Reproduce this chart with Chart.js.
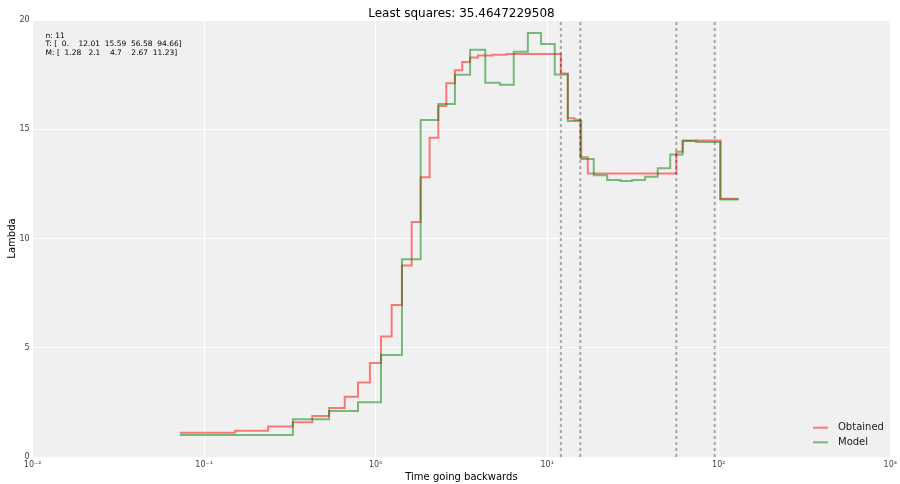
<!DOCTYPE html>
<html>
<head>
<meta charset="utf-8">
<script src="https://cdn.jsdelivr.net/npm/chart.js@4.4.0/dist/chart.umd.min.js"></script>
<style>
  html, body { margin: 0; padding: 0; background: #fff; }
  #wrap { width: 900px; height: 484px; }
</style>
</head>
<body>
<div id="wrap"><canvas id="chart" width="900" height="484"></canvas></div>
<script>
// step breakpoints (time) and lambda of each interval
const obtainedTimes = [0.0722, 0.151, 0.236, 0.329, 0.427, 0.535, 0.660, 0.789, 0.925, 1.074,
    1.239, 1.423, 1.621, 1.829, 2.063, 2.318, 2.581, 2.897, 3.198, 3.551,
    3.943, 4.802, 5.794, 12.01, 13.18, 14.42, 15.59, 17.24, 56.58, 61.6, 102.2, 130.6];
const obtainedLambda = [1.11, 1.20, 1.40, 1.59, 1.88, 2.24, 2.76, 3.41, 4.30, 5.51,
    6.96, 8.76, 10.75, 12.80, 14.61, 16.06, 17.10, 17.70, 18.08, 18.28,
    18.37, 18.41, 18.44, 17.55, 15.50, 15.43, 13.72, 12.98, 13.97, 14.48, 11.82];

const modelTimes = [0.0722, 0.329, 0.535, 0.789, 1.074, 1.423, 1.829, 2.318, 2.897, 3.551,
    4.355, 5.296, 6.381, 7.709, 9.204, 11.06, 13.18, 15.78, 18.68, 22.36,
    26.73, 31.27, 37.22, 44.08, 52.12, 61.6, 73.77, 102.2, 130.6];
const modelLambda = [1.01, 1.73, 2.10, 2.51, 4.67, 9.05, 15.42, 16.16, 17.50, 18.64,
    17.13, 17.04, 18.55, 19.40, 18.90, 17.51, 15.38, 13.64, 12.90, 12.68,
    12.63, 12.68, 12.83, 13.22, 13.84, 14.46, 14.42, 11.79];

const changeTimes = [12.01, 15.59, 56.58, 94.66];

const xTicks = [0.01, 0.1, 1, 10, 100, 1000];
const xTickLabels = ['10\u207B\u00B2', '10\u207B\u00B9', '10\u2070', '10\u00B9', '10\u00B2', '10\u00B3'];
const yMin = 0, yMax = 20, yStep = 5;

const infoLines = [
    'n: 11',
    'T: [  0.    12.01  15.59  56.58  94.66]',
    'M: [  1.28   2.1    4.7    2.67  11.23]'
];

const RED = 'rgba(255,0,0,0.5)';
const GREEN = 'rgba(0,128,0,0.5)';

function toSteps(times, vals) {
    return times.map((t, i) => ({ x: t, y: vals[Math.min(i, vals.length - 1)] }));
}

const vlineSets = changeTimes.map(t => ({
    label: 'T ' + t,
    data: [{ x: t, y: yMin }, { x: t, y: yMax }],
    borderColor: 'rgba(0,0,0,0.3)',
    borderWidth: 2,
    borderDash: [3, 3],
    pointRadius: 0
}));

const bgPlugin = {
    id: 'bg',
    beforeDraw(chart) {
        const { ctx, chartArea: a } = chart;
        ctx.save();
        ctx.fillStyle = '#fff';
        ctx.fillRect(0, 0, chart.width, chart.height);
        ctx.fillStyle = '#f0f0f0';
        ctx.fillRect(a.left, a.top, a.right - a.left, a.bottom - a.top);
        ctx.restore();
    }
};

const textPlugin = {
    id: 'texts',
    afterDraw(chart) {
        const ctx = chart.ctx;
        ctx.save();
        // info box top-left
        ctx.fillStyle = '#000';
        ctx.font = '7.5px "DejaVu Sans"';
        ctx.textBaseline = 'middle';
        ctx.textAlign = 'left';
        infoLines.forEach((s, i) => ctx.fillText(s, 45.5, 35.7 + i * 8.8));

        // legend bottom-right
        const items = [['Obtained', RED], ['Model', GREEN]];
        ctx.font = '10px "DejaVu Sans"';
        items.forEach((it, i) => {
            const y = 427.7 + i * 14.6;
            ctx.strokeStyle = it[1];
            ctx.lineWidth = 2;
            ctx.beginPath();
            ctx.moveTo(813, y);
            ctx.lineTo(828, y);
            ctx.stroke();
            ctx.fillStyle = '#222';
            ctx.fillText(it[0], 838, y);
        });
        ctx.restore();
    }
};

Chart.defaults.font.family = '"DejaVu Sans"';

new Chart(document.getElementById('chart'), {
    type: 'line',
    data: {
        datasets: [
            ...vlineSets,
            { label: 'Model', data: toSteps(modelTimes, modelLambda), borderColor: GREEN,
              borderWidth: 2, stepped: 'before', pointRadius: 0 },
            { label: 'Obtained', data: toSteps(obtainedTimes, obtainedLambda), borderColor: RED,
              borderWidth: 2, stepped: 'before', pointRadius: 0 }
        ]
    },
    options: {
        responsive: false,
        animation: false,
        devicePixelRatio: 1,
        layout: { padding: { left: 0, right: 9, top: 0, bottom: 0 } },
        plugins: {
            legend: { display: false },
            tooltip: { enabled: false },
            title: {
                display: true,
                text: 'Least squares: 35.4647229508',
                fullSize: false,
                color: '#000',
                font: { size: 12, weight: 'normal' },
                padding: { top: 7, bottom: -1.4 }
            }
        },
        scales: {
            x: {
                type: 'logarithmic',
                min: 0.01,
                max: 1000,
                afterBuildTicks(scale) { scale.ticks = xTicks.map(v => ({ value: v })); },
                afterFit(scale) { scale.height = 27; },
                ticks: {
                    autoSkip: false,
                    maxRotation: 0,
                    padding: 3,
                    color: '#444',
                    font: { size: 8 },
                    callback: v => xTickLabels[xTicks.indexOf(v)]
                },
                grid: { color: '#fff', lineWidth: 1, drawTicks: false },
                border: { display: false },
                title: {
                    display: true,
                    text: 'Time going backwards',
                    color: '#000',
                    font: { size: 10 },
                    padding: { top: 0, bottom: 1 }
                }
            },
            y: {
                min: yMin,
                max: yMax,
                afterFit(scale) { scale.width = 32.6; },
                ticks: {
                    stepSize: yStep,
                    padding: 3,
                    color: '#444',
                    font: { size: 8 }
                },
                grid: { color: '#fff', lineWidth: 1, drawTicks: false },
                border: { display: false },
                title: {
                    display: true,
                    text: 'Lambda',
                    color: '#000',
                    font: { size: 10 },
                    padding: { top: 6, bottom: 0 }
                }
            }
        }
    },
    plugins: [bgPlugin, textPlugin]
});
</script>
</body>
</html>
